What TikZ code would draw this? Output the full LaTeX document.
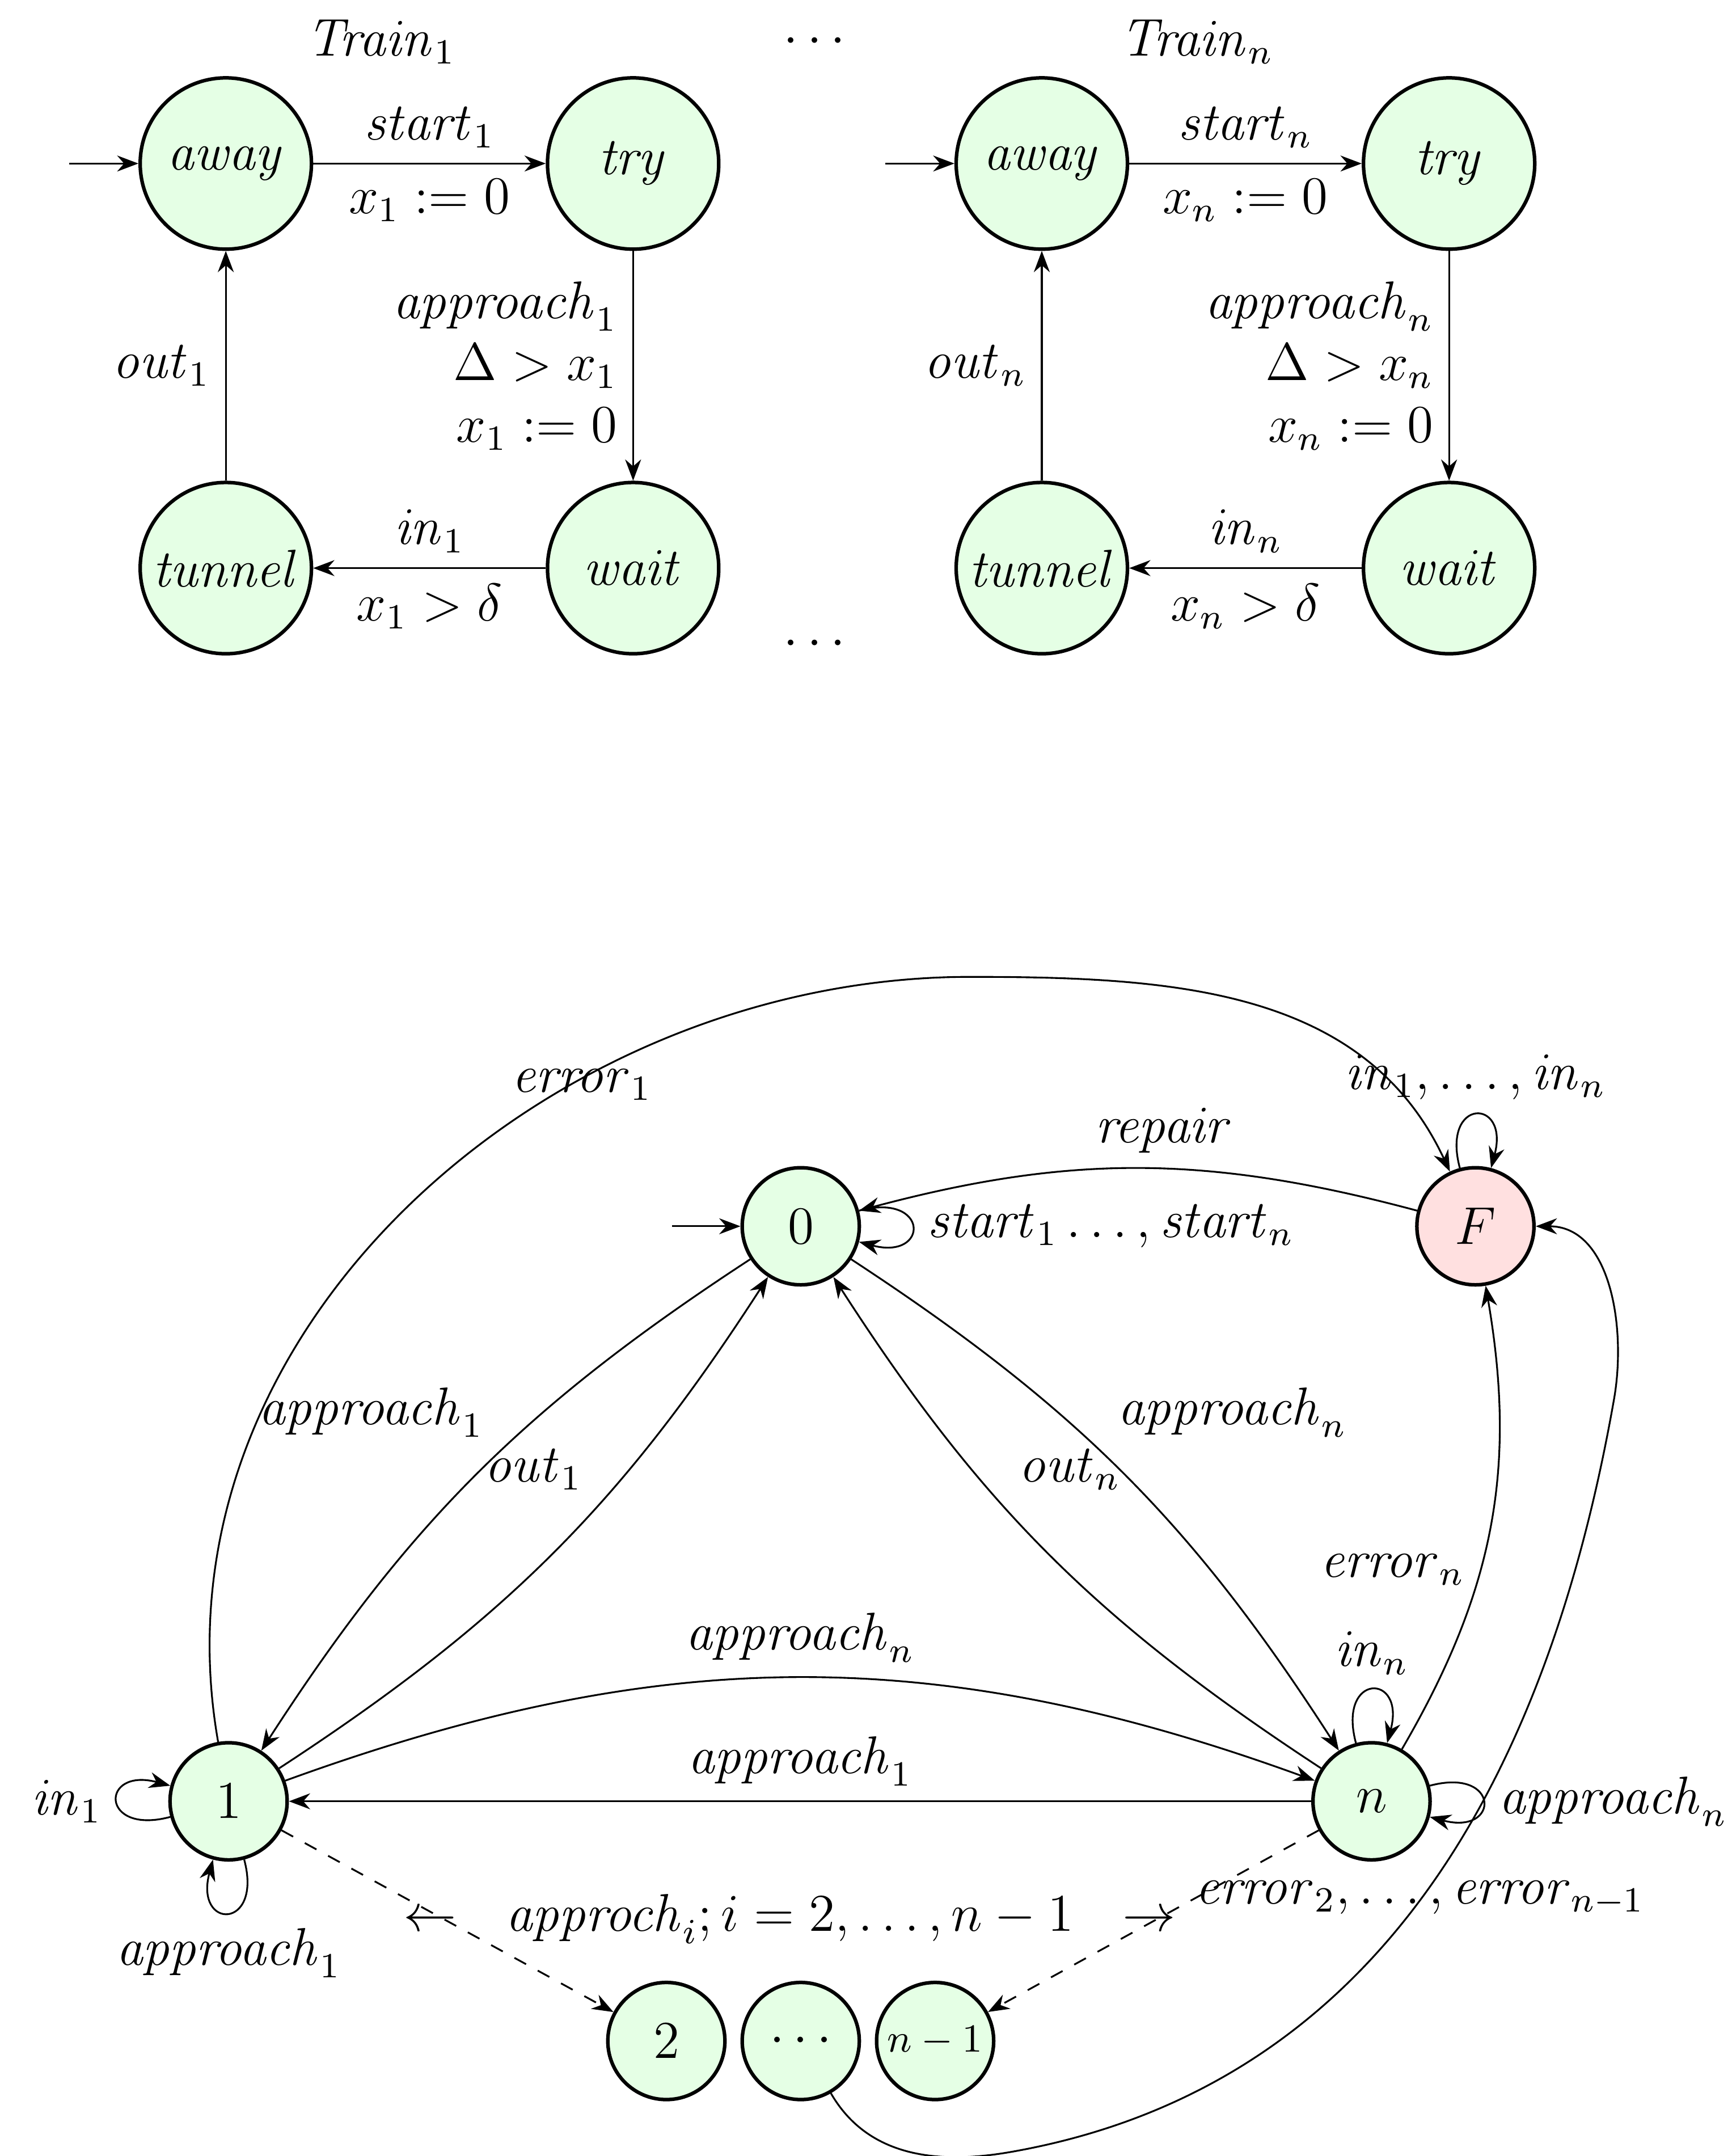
\documentclass[tikz,border=0pt]{standalone}
\usetikzlibrary{arrows.meta}
\begin{document}
\begin{tikzpicture}[x=0.011cm,y=-0.011cm,>=Stealth,
 st/.style={circle,draw,thick,fill=green!10,minimum size=1.36cm,inner sep=0pt,font=\large},
 sst/.style={circle,draw,thick,fill=green!10,minimum size=0.93cm,inner sep=0pt,font=\large},
 lb/.style={font=\large}]
\useasboundingbox (0,0) rectangle (1250,1556);
% top
\foreach \dx/\i in {0/1,589/n}{
\begin{scope}[xshift=\dx*0.011cm]
\node[st] (aw\i) at (163,118) {$\mathit{away}$};
\node[st] (tr\i) at (457,118) {$\mathit{try}$};
\node[st] (tu\i) at (163,410) {$\mathit{tunnel}$};
\node[st] (wa\i) at (457,410) {$\mathit{wait}$};
\coordinate (in\i) at (50,118);
\node[lb] at (275,30) {$\mathit{Train}_\i$};
\draw[->] (in\i) -- (aw\i);
\draw[->] (aw\i) -- node[lb,above]{$\mathit{start}_\i$} node[lb,below]{$x_\i:=0$} (tr\i);
\draw[->] (tr\i) -- node[lb,left,align=right]{$\mathit{approach}_\i$\\$\Delta>x_\i$\\$x_\i:=0$} (wa\i);
\draw[->] (wa\i) -- node[lb,above]{$\mathit{in}_\i$} node[lb,below]{$x_\i>\delta$} (tu\i);
\draw[->] (tu\i) -- node[lb,left]{$\mathit{out}_\i$} (aw\i);
\end{scope}}
\node[lb] at (588,30) {$\cdots$};
\node[lb] at (588,465) {$\cdots$};
% bottom
\node[sst] (z) at (578,885) {$0$};
\node[sst,fill=red!12] (F) at (1065,885) {$F$};
\node[sst] (o) at (165,1300) {$1$};
\node[sst] (n) at (990,1300) {$n$};
\node[sst] (t) at (481,1473) {$2$};
\node[sst] (d) at (578,1473) {$\cdots$};
\node[sst] (m) at (675,1473) {\small$n-1$};
\coordinate (iz) at (485,885);
\coordinate (top) at (700,705);
\coordinate (bot) at (730,1553);
\coordinate (rt) at (1165,1010);
\draw[->] (iz) -- (z);
\draw[->] (z) edge[loop right,looseness=6] node[lb,right]{$\mathit{start}_1\ldots,\mathit{start}_n$} (z);
\draw[->] (F) edge[loop above,looseness=6] node[lb,above]{$\mathit{in}_1,\ldots,\mathit{in}_n$} (F);
\draw[->] (F) to[bend right=15] node[lb,above,pos=0.45]{$\mathit{repair}$} (z);
\draw[->] (o) to[out=100,in=180] (top) to[out=0,in=115] (F);
\node[lb] at (420,783) {$\mathit{error}_1$};
\draw[->] (z) to[bend right=12] node[lb,above left,pos=0.45]{$\mathit{approach}_1$} (o);
\draw[->] (o) to[bend right=12] node[lb,above left,pos=0.6]{$\mathit{out}_1$} (z);
\draw[->] (z) to[bend left=12] node[lb,above right,pos=0.45]{$\mathit{approach}_n$} (n);
\draw[->] (n) to[bend left=12] node[lb,above right,pos=0.6]{$\mathit{out}_n$} (z);
\draw[->] (o) to[bend left=20] node[lb,above]{$\mathit{approach}_n$} (n);
\draw[->] (n) -- node[lb,above]{$\mathit{approach}_1$} (o);
\draw[->] (o) edge[loop left,looseness=6] node[lb,left]{$\mathit{in}_1$} (o);
\draw[->] (o) edge[loop below,looseness=6] node[lb,below]{$\mathit{approach}_1$} (o);
\draw[->] (n) edge[loop above,looseness=6] node[lb,above]{$\mathit{in}_n$} (n);
\draw[->] (n) edge[loop right,looseness=6] node[lb,right]{$\mathit{approach}_n$} (n);
\draw[->] (n) to[bend right=20] node[lb,left,pos=0.4]{$\mathit{error}_n$} (F);
\draw[->,dashed] (o) -- (t);
\draw[->,dashed] (n) -- (m);
\node[lb] at (570,1385) {$\leftarrow\ \ \mathit{approch}_i; i=2,\ldots,n-1\ \ \rightarrow$};
\node[lb] at (1025,1370) {$\mathit{error}_2,\ldots,\mathit{error}_{n-1}$};
\draw[->] (d) to[out=-60,in=190] (bot) to[out=10,in=-100] (rt) to[out=80,in=0] (F);
\end{tikzpicture}
\end{document}
